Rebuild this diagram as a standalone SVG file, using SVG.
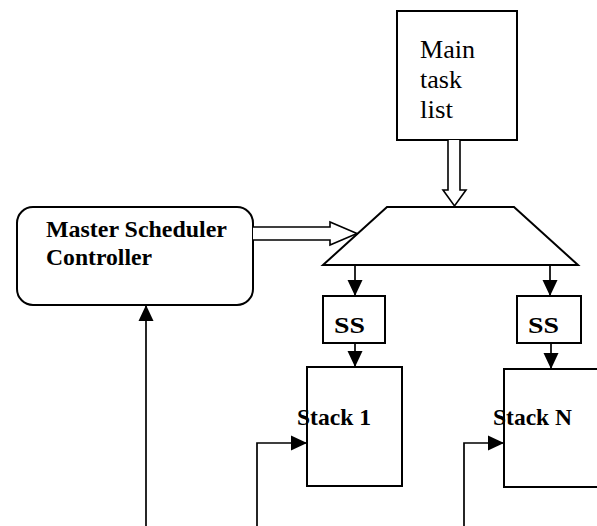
<svg xmlns="http://www.w3.org/2000/svg" width="597" height="526" viewBox="0 0 597 526">
<style>
.box{fill:#fff;stroke:#000;stroke-width:2}
.hollow{fill:#fff;stroke:#000;stroke-width:1.6;stroke-linejoin:miter}
.ln{fill:none;stroke:#000;stroke-width:1.7}
text{font-family:"Liberation Serif","Times New Roman",serif;fill:#000}
.b{font-weight:bold;font-size:24px}
.r{font-size:26px}
</style>
<defs>
<marker id="ah" markerUnits="userSpaceOnUse" markerWidth="16" markerHeight="16" viewBox="0 0 16 16" refX="16" refY="8" orient="auto">
<path d="M0,0.5 L16,8 L0,15.5 Z" fill="#000"/>
</marker>
</defs>
<g id="main-task-list">
<rect class="box" x="397" y="11" width="120" height="129"/>
<text class="r" x="420" y="58" textLength="55" lengthAdjust="spacingAndGlyphs">Main</text>
<text class="r" x="420" y="88" textLength="42" lengthAdjust="spacingAndGlyphs">task</text>
<text class="r" x="420" y="118" textLength="33" lengthAdjust="spacingAndGlyphs">list</text>
</g>
<g id="selector">
<polygon class="box" points="387,207 514,207 578,265 323,265"/>
</g>
<g id="master-scheduler">
<rect class="box" x="17" y="207" width="236" height="98" rx="16" ry="16"/>
<text class="b" x="46" y="237" textLength="181" lengthAdjust="spacingAndGlyphs">Master Scheduler</text>
<text class="b" x="46" y="265" textLength="106" lengthAdjust="spacingAndGlyphs">Controller</text>
</g>
<g id="ss1">
<rect class="box" x="323" y="296" width="62" height="47"/>
<text class="b" x="334" y="333" textLength="31" lengthAdjust="spacingAndGlyphs">SS</text>
</g>
<g id="ssn">
<rect class="box" x="517" y="296" width="64" height="47"/>
<text class="b" x="528" y="333" textLength="31" lengthAdjust="spacingAndGlyphs">SS</text>
</g>
<g id="stack1">
<rect class="box" x="307" y="367" width="95" height="119"/>
<text class="b" x="297" y="425" textLength="74" lengthAdjust="spacingAndGlyphs">Stack 1</text>
</g>
<g id="stackn">
<rect class="box" x="504" y="369" width="100" height="118"/>
<text class="b" x="493" y="425" textLength="79" lengthAdjust="spacingAndGlyphs">Stack N</text>
</g>
<g id="connectors">
<path class="hollow" d="M448,140 L448,190 L443,190 L454.5,206 L466,190 L460,190 L460,140"/>
<path class="hollow" d="M253,227 L330,227 L330,222 L357,233.5 L330,245 L330,240 L253,240"/>
<line class="ln" x1="355" y1="265" x2="355" y2="296" marker-end="url(#ah)"/>
<line class="ln" x1="550" y1="265" x2="550" y2="296" marker-end="url(#ah)"/>
<line class="ln" x1="355" y1="343" x2="355" y2="367" marker-end="url(#ah)"/>
<line class="ln" x1="551" y1="343" x2="551" y2="369" marker-end="url(#ah)"/>
<line class="ln" x1="146" y1="526" x2="146" y2="305" marker-end="url(#ah)"/>
<path class="ln" d="M257,526 V443 H307" marker-end="url(#ah)"/>
<path class="ln" d="M464,526 V443 H504" marker-end="url(#ah)"/>
</g>
</svg>
